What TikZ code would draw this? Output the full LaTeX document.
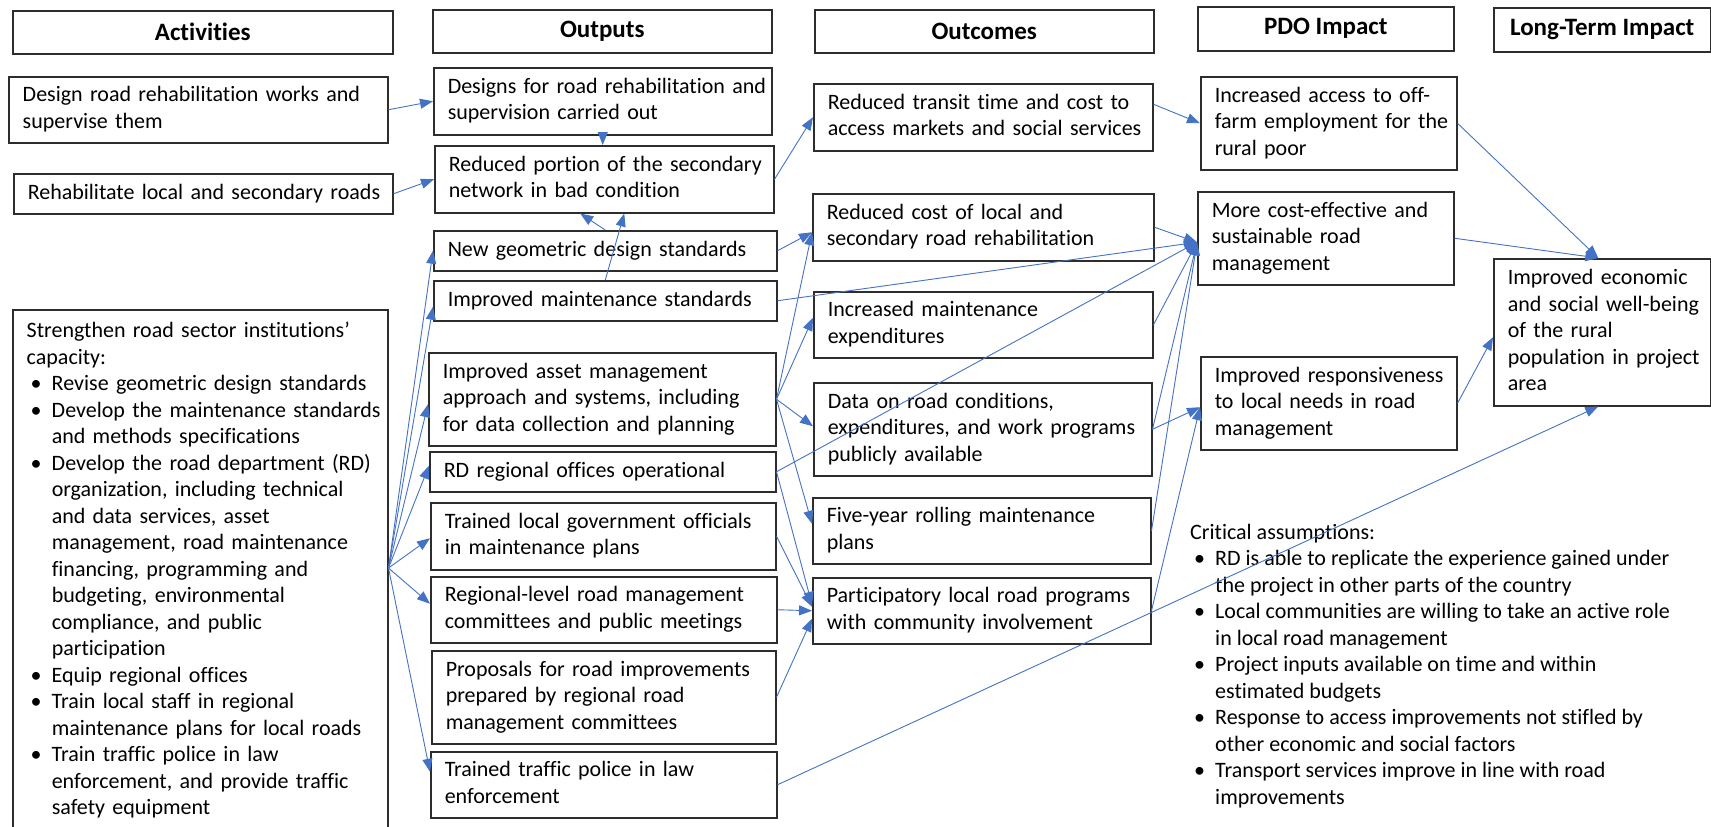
\documentclass[tikz,border=0pt]{standalone}
\usepackage{fontspec}
\setmainfont{Carlito}[Ligatures={TeX,NoCommon}]
\usetikzlibrary{arrows.meta,calc}
\definecolor{linkblue}{RGB}{68,114,196}
\definecolor{boxgray}{RGB}{45,45,45}
\newcommand{\lns}[1]{\begin{tabular}{@{}l@{}}#1\end{tabular}}
\newcommand{\bul}{\makebox[25pt][l]{\hspace{4pt}\textbullet}}
\newcommand{\ind}{\hspace*{25pt}}

\begin{document}
\begin{tikzpicture}[x=1pt,y=-1pt,
	txt/.style={font=\fontsize{22}{26.5}\selectfont},
	box/.style={txt,draw=boxgray,line width=1.5pt,anchor=north west,align=left,inner xsep=14pt,inner ysep=0pt},
	head/.style={draw=boxgray,line width=1.5pt,anchor=north west,font=\fontsize{25}{30}\selectfont\bfseries,inner sep=0pt},
	link/.style={linkblue,line width=0.9pt,-{Triangle[length=13pt,width=10pt]}}]
	\useasboundingbox (0,0) rectangle (1711,827);
	\node[head,minimum width=380,minimum height=43] (hact) at (12,10) {Activities};
	\node[head,minimum width=339,minimum height=43] (hout) at (432,9) {Outputs};
	\node[head,minimum width=339,minimum height=43] (hocm) at (814,9) {Outcomes};
	\node[head,minimum width=256,minimum height=44] (hpdo) at (1197,6) {PDO Impact};
	\node[head,minimum width=217,minimum height=44] (hlti) at (1493,7) {Long-Term Impact};
	\node[box,text width=351,minimum height=66] (act1) at (8,76) {\lns{Design road rehabilitation works and\\supervise them}};
	\node[box,text width=351,minimum height=40] (act2) at (13,173) {\lns{Rehabilitate local and secondary roads}};
	\node[box,text width=347] (act3) at (12,309) {\lns{\rule{0pt}{28pt}Strengthen road sector institutions’\\
		capacity:\\
		\bul Revise geometric design standards\\
		\bul Develop the maintenance standards\\
		\ind and methods specifications\\
		\bul Develop the road department (RD)\\
		\ind organization, including technical\\
		\ind and data services, asset\\
		\ind management, road maintenance\\
		\ind financing, programming and\\
		\ind budgeting, environmental\\
		\ind compliance, and public\\
		\ind participation\\
		\bul Equip regional offices\\
		\bul Train local staff in regional\\
		\ind maintenance plans for local roads\\
		\bul Train traffic police in law\\
		\ind enforcement, and provide traffic\\
		\ind safety equipment\rule[-32pt]{0pt}{0pt}}};
	\node[box,text width=310,minimum height=67] (o1) at (433,67) {\lns{Designs for road rehabilitation and\\supervision carried out}};
	\node[box,text width=311,minimum height=67] (o2) at (434,145) {\lns{Reduced portion of the secondary\\network in bad condition}};
	\node[box,text width=315,minimum height=40] (o3) at (433,230) {\lns{New geometric design standards}};
	\node[box,text width=315,minimum height=40] (o4) at (433,280) {\lns{Improved maintenance standards}};
	\node[box,text width=319,minimum height=93] (o5) at (428,352) {\lns{Improved asset management\\approach and systems, including\\for data collection and planning}};
	\node[box,text width=318,minimum height=40] (o6) at (429,451) {\lns{RD regional offices operational}};
	\node[box,text width=317,minimum height=67] (o7) at (430,502) {\lns{Trained local government officials\\in maintenance plans}};
	\node[box,text width=318,minimum height=66] (o8) at (430,576) {\lns{Regional-level road management\\committees and public meetings}};
	\node[box,text width=316,minimum height=93] (o9) at (431,650) {\lns{Proposals for road improvements\\prepared by regional road\\management committees}};
	\node[box,text width=318,minimum height=66] (o10) at (430,751) {\lns{Trained traffic police in law\\enforcement}};
	\node[box,text width=311,minimum height=67] (c1) at (813,83) {\lns{Reduced transit time and cost to\\access markets and social services}};
	\node[box,text width=313,minimum height=67] (c2) at (812,193) {\lns{Reduced cost of local and\\secondary road rehabilitation}};
	\node[box,text width=311,minimum height=66] (c3) at (813,291) {\lns{Increased maintenance\\expenditures}};
	\node[box,text width=310,minimum height=93] (c4) at (813,382) {\lns{Data on road conditions,\\expenditures, and work programs\\publicly available}};
	\node[box,text width=310,minimum height=66] (c5) at (812,497) {\lns{Five-year rolling maintenance\\plans}};
	\node[box,text width=310,minimum height=66] (c6) at (812,577) {\lns{Participatory local road programs\\with community involvement}};
	\node[box,text width=228,minimum height=93] (p1) at (1200,76) {\lns{Increased access to off-\\farm employment for the\\rural poor}};
	\node[box,text width=228,minimum height=93] (p2) at (1197,191) {\lns{More cost-effective and\\sustainable road\\management}};
	\node[box,text width=228,minimum height=93] (p3) at (1200,356) {\lns{Improved responsiveness\\to local needs in road\\management}};
	\node[box,text width=189,minimum height=147] (l1) at (1493,258) {\lns{Improved economic\\and social well-being\\of the rural\\population in project\\area}};
	\node[txt,anchor=north west,align=left,inner sep=0pt] (crit) at (1190,519) {\lns{\rule{0pt}{20pt}Critical assumptions:\\
		\bul RD is able to replicate the experience gained under\\
		\ind the project in other parts of the country\\
		\bul Local communities are willing to take an active role\\
		\ind in local road management\\
		\bul Project inputs available on time and within\\
		\ind estimated budgets\\
		\bul Response to access improvements not stifled by\\
		\ind other economic and social factors\\
		\bul Transport services improve in line with road\\
		\ind improvements}};
	\coordinate (fan) at ($(act3.north east)+(0,259)$);
	\foreach \t/\dy in {o3/0,o4/6,o5/5,o6/-6,o7/2,o8/-6,o10/-13}
		\draw[link] (fan) -- ($(\t.west)+(0,\dy)$);
	\draw[link] (act1.east) -- (o1.west);
	\draw[link] (act2.east) -- (o2.west);
	\draw[link] (o1.south) -- (o1.south |- o2.north);
	\draw[link] (o3.north) -- ($(o2.south)+(-24,0)$);
	\draw[link] (o4.north) -- ($(o2.south)+(20,0)$);
	\draw[link] (o2.east) -- (c1.west);
	\draw[link] (o3.east) -- ($(c2.west)+(0,5)$);
	\draw[link] (o4.east) -- ($(p2.west)+(0,4)$);
	\foreach \t/\dy in {c2/5,c3/-7,c4/-3,c5/-7}
		\draw[link] (o5.east) -- ($(\t.west)+(0,\dy)$);
	\draw[link] (o6.east) -- ($(p2.west)+(0,4)$);
	\draw[link] (o6.east) -- ($(c6.west)+(0,-6)$);
	\draw[link] (o7.east) -- ($(c6.west)+(0,-4)$);
	\draw[link] (o8.east) -- (c6.west);
	\draw[link] (o9.east) -- ($(c6.west)+(0,8)$);
	\draw[link] (o10.east) -- ($(l1.south)+(-4,0)$);
	\draw[link] ($(c1.east)+(0,-13)$) -- (p1.west);
	\foreach \s in {c2,c3,c4,c5}
		\draw[link] (\s.east) -- ($(p2.west)+(0,4)$);
	\draw[link] (c4.east) -- ($(p3.west)+(0,4)$);
	\draw[link] (c6.east) -- ($(p3.west)+(0,4)$);
	\draw[link] (p1.east) -- ($(l1.north)+(-4,0)$);
	\draw[link] (p2.east) -- ($(l1.north)+(-4,0)$);
	\draw[link] (p3.east) -- ($(l1.west)+(0,5)$);
\end{tikzpicture}
\end{document}
